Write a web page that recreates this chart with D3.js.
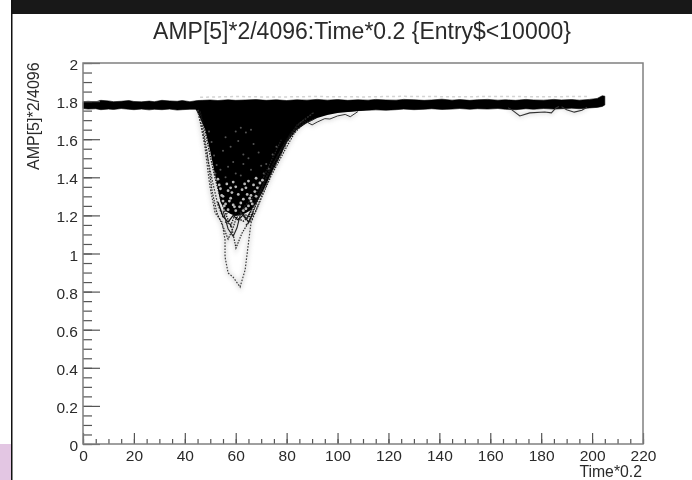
<!DOCTYPE html>
<html>
<head>
<meta charset="utf-8">
<script src="https://cdn.jsdelivr.net/npm/d3@7"></script>
<style>
  html, body { margin: 0; padding: 0; background: #fff; }
  svg { display: block; }
  text { font-family: "Liberation Sans", Arial, sans-serif; fill: #2a2a2a; }
</style>
</head>
<body>
<svg id="chart"></svg>
<script>
var width = 692;
var height = 480;

var titleText = 'AMP[5]*2/4096:Time*0.2 {Entry$<10000}';
var xTitle = 'Time*0.2';
var yTitle = 'AMP[5]*2/4096';

var xMajor = [0, 20, 40, 60, 80, 100, 120, 140, 160, 180, 200, 220];
var yMajor = [0, 0.2, 0.4, 0.6, 0.8, 1, 1.2, 1.4, 1.6, 1.8, 2];
var yLabels = ['0', '0.2', '0.4', '0.6', '0.8', '1', '1.2', '1.4', '1.6', '1.8', '2'];

// baseline band
var bandTime = [0, 2, 5, 7, 10, 12, 15, 18, 20, 23, 26, 28, 31, 34, 37, 39, 42, 45, 47, 50, 53, 57, 60, 64, 68, 72, 76, 80, 84, 88, 92, 96, 100, 104, 108, 112, 115, 119, 123, 126, 130, 134, 137, 141, 145, 148, 152, 155, 159, 163, 166, 170, 174, 177, 181, 185, 188, 192, 195, 199, 202, 204, 205];
var bandTop = [1.797, 1.799, 1.796, 1.804, 1.801, 1.797, 1.799, 1.803, 1.798, 1.796, 1.800, 1.797, 1.804, 1.801, 1.799, 1.803, 1.797, 1.803, 1.804, 1.806, 1.803, 1.807, 1.804, 1.806, 1.808, 1.804, 1.807, 1.803, 1.807, 1.805, 1.809, 1.805, 1.808, 1.804, 1.807, 1.805, 1.809, 1.806, 1.805, 1.809, 1.807, 1.804, 1.806, 1.810, 1.805, 1.808, 1.804, 1.807, 1.809, 1.805, 1.807, 1.804, 1.809, 1.806, 1.805, 1.809, 1.806, 1.808, 1.805, 1.809, 1.814, 1.828, 1.826];
var bandLow = [1.761, 1.758, 1.760, 1.755, 1.758, 1.756, 1.761, 1.757, 1.755, 1.758, 1.754, 1.757, 1.755, 1.758, 1.753, 1.755, 1.757, 1.757, 1.755, 1.754, 1.752, 1.750, 1.752, 1.750, 1.752, 1.750, 1.752, 1.750, 1.750, 1.752, 1.750, 1.748, 1.748, 1.746, 1.750, 1.752, 1.754, 1.752, 1.755, 1.758, 1.755, 1.757, 1.760, 1.756, 1.758, 1.761, 1.757, 1.760, 1.758, 1.761, 1.757, 1.755, 1.760, 1.757, 1.761, 1.758, 1.760, 1.763, 1.760, 1.764, 1.767, 1.772, 1.780];

// grey smear just above the band
var smearTime = [46, 60, 75, 90, 110, 125, 145, 165, 180, 198];
var smearAmp = [1.820, 1.824, 1.821, 1.824, 1.822, 1.825, 1.823, 1.824, 1.823, 1.824];

// solid part of the pulse
var coreTime = [44, 46, 48, 50, 52, 54, 56, 58, 60, 62, 64, 66, 68, 70, 72, 74, 76, 78, 80, 84, 88, 92, 96, 100, 104, 108, 112, 120];
var coreLow = [1.764, 1.711, 1.650, 1.535, 1.405, 1.270, 1.222, 1.208, 1.197, 1.202, 1.212, 1.228, 1.262, 1.308, 1.362, 1.420, 1.470, 1.524, 1.582, 1.649, 1.685, 1.711, 1.727, 1.738, 1.743, 1.748, 1.754, 1.764];

// single pulses that stand clear of the solid part
var deepTime = [45.2, 47.9, 49.9, 51.9, 54.6, 55.8, 55.8, 57, 58.9, 61.7, 63.7, 64.8, 66, 69.5, 74.6, 81.3, 85.3, 91];
var deepAmp = [1.754, 1.559, 1.349, 1.213, 1.166, 1.071, 0.982, 0.898, 0.877, 0.824, 0.914, 1.034, 1.160, 1.281, 1.439, 1.612, 1.685, 1.743];

var secondTime = [46, 48.7, 50.7, 52.6, 55.4, 57, 58.5, 60.1, 63.6, 67.5, 72, 78];
var secondAmp = [1.743, 1.538, 1.328, 1.213, 1.129, 1.076, 1.118, 1.181, 1.250, 1.302, 1.430, 1.600];

var thirdTime = [55.8, 58.2, 60.1, 62.5, 65.2, 68, 72.3, 78.2, 84.1, 90];
var thirdAmp = [1.166, 1.150, 1.029, 1.108, 1.166, 1.255, 1.412, 1.554, 1.675, 1.735];

var edgeLeftTime = [45, 47, 49, 51, 53, 55, 57];
var edgeLeftAmp = [1.752, 1.640, 1.500, 1.370, 1.255, 1.190, 1.215];
var edgeMidTime = [46, 48, 50, 52, 54, 56, 58, 60];
var edgeMidAmp = [1.748, 1.640, 1.510, 1.390, 1.290, 1.210, 1.145, 1.215];

var edgeRightTime = [60, 63, 66, 69, 72, 75, 78, 81, 84, 88];
var edgeRightAmp = [1.190, 1.170, 1.200, 1.305, 1.395, 1.470, 1.545, 1.615, 1.668, 1.700];
var edgeRight2Time = [64, 66, 68, 71, 74, 77, 80, 83, 86, 92];
var edgeRight2Amp = [1.150, 1.172, 1.225, 1.320, 1.410, 1.485, 1.560, 1.630, 1.675, 1.715];
var edgeRight3Time = [62, 65, 67, 70, 73, 76, 79, 82, 86];
var edgeRight3Amp = [1.215, 1.195, 1.255, 1.345, 1.430, 1.500, 1.575, 1.640, 1.672];

// loops under the bottom of the pulse
var loopTime = [53, 55, 57, 59, 61, 63, 65, 67];
var loopAmp = [1.270, 1.195, 1.165, 1.200, 1.175, 1.205, 1.165, 1.215];
var loop2Time = [55, 57, 59, 60.5, 62, 64, 66];
var loop2Amp = [1.225, 1.130, 1.090, 1.135, 1.215, 1.180, 1.225];

var kneeTime = [88, 90, 92, 95, 97, 100, 103, 105, 108];
var kneeAmp = [1.690, 1.675, 1.690, 1.708, 1.706, 1.722, 1.730, 1.718, 1.745];

var dipTime = [167, 168.5, 171.6, 175.5, 181.4, 184, 185.8, 187];
var dipAmp = [1.765, 1.754, 1.722, 1.738, 1.743, 1.738, 1.764, 1.772];
var dip2Time = [188, 190, 193, 196, 198];
var dip2Amp = [1.770, 1.755, 1.742, 1.752, 1.768];

// light flecks inside the solid part
var fleckTime = [56, 60, 62, 64, 66, 58, 61, 63, 67, 55, 59, 65, 69, 54, 57, 60, 63, 66, 70, 53, 56, 59, 62, 65, 68, 54, 57, 60, 64, 67, 55, 58, 61, 63, 66, 56, 59, 62, 65, 57, 60, 64, 68, 55, 58, 63, 66, 72, 52, 71, 53.5, 56.5, 58.5, 61.5, 64.5, 67.5, 69.5, 54.5, 57.5, 62.5, 65.5, 68.5, 55.5, 59.5, 63.5, 66.5, 52.5, 70.5, 51.5, 73, 50.5, 74.5, 49.5, 76];
var fleckAmp = [1.610, 1.640, 1.660, 1.635, 1.650, 1.560, 1.590, 1.520, 1.575, 1.540, 1.480, 1.500, 1.530, 1.440, 1.455, 1.420, 1.470, 1.440, 1.460, 1.390, 1.400, 1.375, 1.410, 1.380, 1.395, 1.340, 1.330, 1.350, 1.345, 1.360, 1.300, 1.290, 1.310, 1.285, 1.305, 1.260, 1.255, 1.265, 1.250, 1.230, 1.225, 1.235, 1.300, 1.275, 1.345, 1.225, 1.275, 1.470, 1.420, 1.420, 1.360, 1.365, 1.320, 1.245, 1.310, 1.325, 1.370, 1.305, 1.275, 1.335, 1.290, 1.345, 1.250, 1.245, 1.365, 1.260, 1.465, 1.385, 1.515, 1.445, 1.585, 1.520, 1.640, 1.560];

var x = d3.scaleLinear().domain([0, 220]).range([83, 643]);
var y = d3.scaleLinear().domain([0, 2]).range([444, 63]);

var svg = d3.select('#chart').attr('width', width).attr('height', height);

// screenshot frame around the canvas
svg.append('rect').attr('x', 11).attr('y', 0).attr('width', width - 11).attr('height', 14).attr('fill', '#181818');
svg.append('rect').attr('x', 11).attr('y', 0).attr('width', 1.5).attr('height', height).attr('fill', '#111');
svg.append('rect').attr('x', 0).attr('y', 444).attr('width', 11).attr('height', 36).attr('fill', '#e3c6e3');

var line = d3.line().x(d => x(d[0])).y(d => y(d[1]));
var traces = [
  [deepTime, deepAmp, '#3a3a3a', '1.6 1.5', 1.2],
  [secondTime, secondAmp, '#222', '1.5 1.2', 1.2],
  [thirdTime, thirdAmp, '#222', '1.5 1.2', 1.2],
  [edgeLeftTime, edgeLeftAmp, '#333', '1.6 1.5', 1.2],
  [edgeMidTime, edgeMidAmp, '#111', '1.5 1.2', 1.3],
  [edgeRightTime, edgeRightAmp, '#111', '1.5 1.1', 1.3],
  [edgeRight2Time, edgeRight2Amp, '#222', '1.5 1.2', 1.2],
  [edgeRight3Time, edgeRight3Amp, '#111', '1.5 1', 1.3],
  [loopTime, loopAmp, '#111', null, 1.3],
  [loop2Time, loop2Amp, '#222', null, 1.1],
  [kneeTime, kneeAmp, '#333', null, 1],
  [dipTime, dipAmp, '#333', null, 1.1],
  [dip2Time, dip2Amp, '#333', null, 1.1]
];

// soft grey haze that the compression left around the thin lines
var haze = svg.append('g').style('filter', 'blur(2px)').attr('opacity', 0.22);
haze.selectAll('path')
  .data(traces)
  .enter()
  .append('path')
    .attr('d', d => line(d[0].map((t, i) => [t, d[1][i]])))
    .attr('fill', 'none')
    .attr('stroke', '#777')
    .attr('stroke-width', 4);

var plot = svg.append('g').style('filter', 'blur(0.5px)');

plot.append('path')
  .attr('d', line(smearTime.map((t, i) => [t, smearAmp[i]])))
  .attr('fill', 'none')
  .attr('stroke', '#d4d4d4')
  .attr('stroke-width', 1.5)
  .attr('stroke-dasharray', '3 3');

var bandArea = d3.area().x((d, i) => x(bandTime[i])).y0((d, i) => y(bandLow[i])).y1((d, i) => y(bandTop[i]));
plot.append('path').datum(bandTime).attr('d', bandArea).attr('fill', '#000').attr('stroke', '#000').attr('stroke-width', 0.6);

var coreArea = d3.area().x((d, i) => x(coreTime[i])).y0((d, i) => y(coreLow[i])).y1(y(1.79));
plot.append('path').datum(coreTime).attr('d', coreArea).attr('fill', '#000');

plot.selectAll('.trace')
  .data(traces)
  .enter()
  .append('path')
    .classed('trace', true)
    .attr('d', d => line(d[0].map((t, i) => [t, d[1][i]])))
    .attr('fill', 'none')
    .attr('stroke', d => d[2])
    .attr('stroke-dasharray', d => d[3])
    .attr('stroke-width', d => d[4]);

plot.selectAll('.fleck')
  .data(fleckTime)
  .enter()
  .append('circle')
    .classed('fleck', true)
    .attr('cx', d => x(d))
    .attr('cy', (d, i) => y(fleckAmp[i]))
    .attr('r', (d, i) => fleckAmp[i] < 1.4 ? 1.4 : 1)
    .attr('fill', (d, i) => fleckAmp[i] < 1.4 ? '#bbb' : '#555');

// ROOT style axes, ticks point inwards
var axisColor = '#555';
var xAxis = d3.axisBottom(x).tickValues(xMajor).tickSize(-11).tickPadding(6).tickSizeOuter(0);
var yAxis = d3.axisLeft(y).tickValues(yMajor).tickSize(-17).tickPadding(5).tickSizeOuter(0)
  .tickFormat((d, i) => yLabels[i]);
var xMinor = d3.axisBottom(x).tickValues(d3.range(0, 221, 5)).tickSize(-5).tickFormat('').tickSizeOuter(0);
var yMinor = d3.axisLeft(y).tickValues(d3.range(0, 2.001, 0.05)).tickSize(-9).tickFormat('').tickSizeOuter(0);

var axes = svg.append('g').style('filter', 'blur(0.35px)');
axes.append('g').attr('transform', 'translate(0,444)').call(xMinor);
axes.append('g').attr('transform', 'translate(83,0)').call(yMinor);
var gx = axes.append('g').attr('transform', 'translate(0,444)').call(xAxis);
var gy = axes.append('g').attr('transform', 'translate(83,0)').call(yAxis);
axes.selectAll('.domain').remove();
axes.selectAll('line').attr('stroke', axisColor).attr('stroke-width', 1.2);
axes.selectAll('text').attr('font-size', 15.5).attr('font-family', '"Liberation Sans", Arial, sans-serif').attr('fill', '#2a2a2a');
gy.selectAll('text').attr('dy', '0.42em');

axes.append('rect')
  .attr('x', x(0)).attr('y', y(2))
  .attr('width', x(220) - x(0)).attr('height', y(0) - y(2))
  .attr('fill', 'none').attr('stroke', '#808080').attr('stroke-width', 1.5);

axes.append('text').attr('x', 362).attr('y', 39).attr('text-anchor', 'middle').attr('font-size', 23).text(titleText);
axes.append('text').attr('x', 642).attr('y', 477).attr('text-anchor', 'end').attr('font-size', 15.8).text(xTitle);
axes.append('text').attr('transform', 'translate(39,170) rotate(-90)').attr('font-size', 16).text(yTitle);
</script>
</body>
</html>
